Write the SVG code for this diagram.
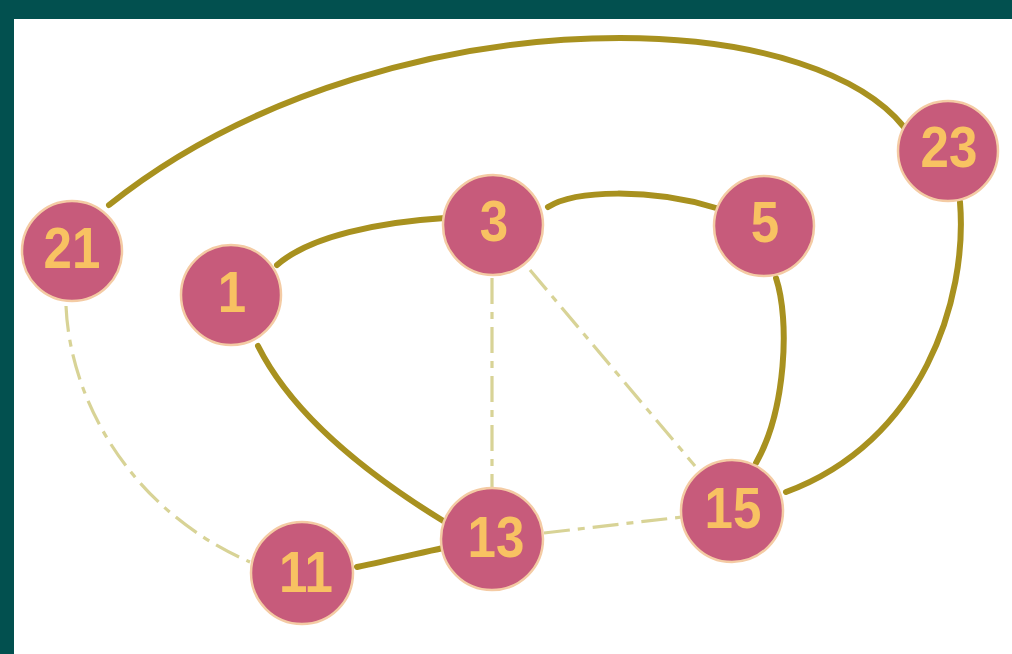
<svg xmlns="http://www.w3.org/2000/svg" width="1012" height="654" viewBox="0 0 1012 654">
  <style>
    .solid { fill: none; stroke: #A8911F; stroke-width: 6; stroke-linecap: round; }
    .dash { fill: none; stroke: #D8D396; stroke-width: 3.2; stroke-dasharray: 26 8 7 8; }
    .node circle { fill: #C75B7B; stroke: #F4CBA4; stroke-width: 2.5; }
    .node text { font-family: "Liberation Sans", Arial, sans-serif; font-weight: bold; font-size: 58px; fill: #F8C262; text-anchor: middle; }
  </style>

  <!-- frame -->
  <rect x="0" y="0" width="1012" height="654" fill="#02504F"/>
  <rect x="14" y="19" width="998" height="635" fill="#FFFFFF"/>

  <!-- connectors -->
  <g id="edges">
    <path class="dash" d="M66,306 C70,400 130,510 250,562"/>
    <path class="dash" d="M492,278 L492,488"/>
    <path class="dash" d="M530,270 L695,466"/>
    <path class="dash" d="M544,533 L682,517"/>

    <path class="solid" d="M109,205 C250,92 450,38 620,38 C760,38 862,75 904,127"/>
    <path class="solid" d="M277,265 C310,236 380,222 445,218"/>
    <path class="solid" d="M548,207 C575,190 650,188 716,208"/>
    <path class="solid" d="M776,278 C790,320 786,410 756,463"/>
    <path class="solid" d="M960,202 C968,300 922,442 786,492"/>
    <path class="solid" d="M258,346 C290,410 360,470 445,522"/>
    <path class="solid" d="M357,567 C390,560 420,553 443,548"/>
  </g>

  <!-- nodes: labels are narrowed horizontally -->
  <g id="n21" class="node"><circle cx="72" cy="251" r="50"/><text transform="translate(72,268) scale(0.88,1)">21</text></g>
  <g id="n1" class="node"><circle cx="231" cy="295" r="50"/><text transform="translate(232,312) scale(0.88,1)">1</text></g>
  <g id="n3" class="node"><circle cx="493" cy="225" r="50"/><text transform="translate(494,241) scale(0.88,1)">3</text></g>
  <g id="n5" class="node"><circle cx="764" cy="226" r="50"/><text transform="translate(765,242) scale(0.88,1)">5</text></g>
  <g id="n23" class="node"><circle cx="948" cy="151" r="50"/><text transform="translate(949,167) scale(0.88,1)">23</text></g>
  <g id="n15" class="node"><circle cx="732" cy="511" r="51"/><text transform="translate(733,528) scale(0.88,1)">15</text></g>
  <g id="n13" class="node"><circle cx="492" cy="539" r="51"/><text transform="translate(496,557) scale(0.88,1)">13</text></g>
  <g id="n11" class="node"><circle cx="302" cy="573" r="51"/><text transform="translate(306,592) scale(0.88,1)">11</text></g>
</svg>
